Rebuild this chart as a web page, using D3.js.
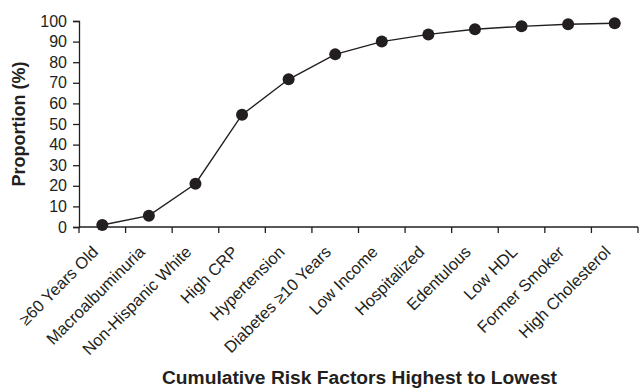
<!DOCTYPE html>
<html><head><meta charset="utf-8">
<script src="https://cdn.jsdelivr.net/npm/d3@7"></script>
<style>body{margin:0;background:#fff}svg{display:block}text{font-family:"Liberation Sans",Arial,sans-serif}</style>
</head><body><svg id="c" width="642" height="389"></svg>
<script>
const categories = ["\u226560 Years Old","Macroalbuminuria","Non-Hispanic White","High CRP","Hypertension","Diabetes \u226510 Years","Low Income","Hospitalized","Edentulous","Low HDL","Former Smoker","High Cholesterol"];
const values = [1,5.5,21,54.5,71.7,83.8,90,93.5,96,97.4,98.4,98.9];
const yTicks = [0,10,20,30,40,50,60,70,80,90,100];

const svg = d3.select("#c");
const pL = 79, pR = 638, pB = 227, pT = 21;
const x = d3.scaleBand().domain(categories).range([pL, pR]).paddingInner(0).paddingOuter(0);
const y = d3.scaleLinear().domain([0,100]).range([pB, pT]);
const ink = "#231f20";
const cx = (d,i)=>x(categories[i])+x.bandwidth()/2;

const gx = svg.append("g").attr("transform",`translate(0,${pB})`);
gx.append("line").attr("x1",pL).attr("x2",pR).attr("stroke",ink).attr("stroke-width",1.3);
const bounds = categories.map(c=>x(c)).concat([pR]);
gx.selectAll("line.t").data(bounds).join("line").attr("class","t")
  .attr("x1",d=>d).attr("x2",d=>d).attr("y1",0).attr("y2",6).attr("stroke",ink).attr("stroke-width",1.3);
gx.selectAll("text").data(categories).join("text")
  .attr("transform",d=>`translate(${x(d)+x.bandwidth()/2-3},26) rotate(-45)`)
  .attr("text-anchor","end").attr("font-size",16.5).attr("fill",ink).text(d=>d);

const gy = svg.append("g").attr("transform",`translate(${pL},0)`)
  .call(d3.axisLeft(y).tickValues(yTicks).tickSize(6).tickPadding(6));
gy.select(".domain").attr("stroke",ink).attr("stroke-width",1.3);
gy.selectAll(".tick line").attr("stroke",ink).attr("stroke-width",1.3);
gy.selectAll(".tick text").attr("font-size",16).attr("fill",ink).attr("font-family","Liberation Sans, Arial, sans-serif");

const line = d3.line().x((d,i)=>cx(d,i)).y(d=>y(d));
svg.append("path").datum(values).attr("d",line).attr("fill","none").attr("stroke",ink).attr("stroke-width",1.4);
svg.selectAll("circle").data(values).join("circle")
  .attr("cx",cx).attr("cy",d=>y(d)).attr("r",6).attr("fill",ink);

svg.append("text").attr("transform","translate(25,124) rotate(-90)").attr("text-anchor","middle")
  .attr("font-size",18).attr("font-weight","bold").attr("fill",ink).text("Proportion (%)");
svg.append("text").attr("x",359.5).attr("y",384).attr("text-anchor","middle")
  .attr("font-size",18).attr("font-weight","bold").attr("fill",ink)
  .attr("textLength",395).attr("lengthAdjust","spacingAndGlyphs")
  .text("Cumulative Risk Factors Highest to Lowest");
</script></body></html>
